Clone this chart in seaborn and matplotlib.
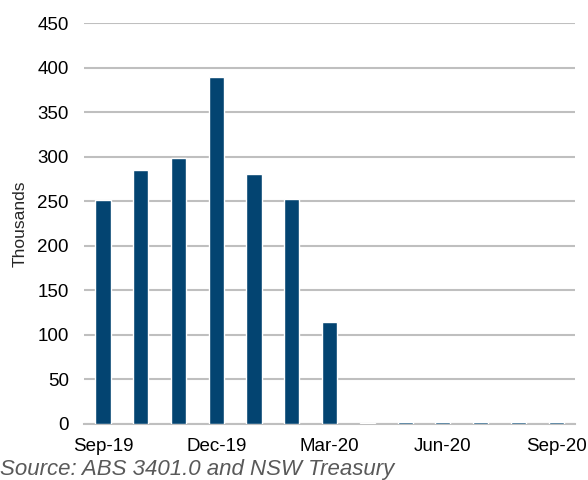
import numpy as np
import pandas as pd
import matplotlib
matplotlib.use("Agg")
import matplotlib.pyplot as plt
import seaborn as sns

months = ["Sep-19", "Oct-19", "Nov-19", "Dec-19", "Jan-20", "Feb-20", "Mar-20",
          "Apr-20", "May-20", "Jun-20", "Jul-20", "Aug-20", "Sep-20"]
thousands = [251, 285, 298, 389, 280, 252, 114, 0.8, 1.6, 2.6, 1.6, 1.6, 2.6]
shown_ticks = ["Sep-19", "Dec-19", "Mar-20", "Jun-20", "Sep-20"]

BAR = "#034471"
GRID = "#bfbfbf"

sns.set_theme(style="white")
plt.rcParams["font.family"] = ["Liberation Sans", "DejaVu Sans"]

df = pd.DataFrame({"month": months, "value": thousands})

fig = plt.figure(figsize=(5.88, 4.8), dpi=100)
ax = fig.add_axes([0.143, 0.117, 0.835, 0.835])

sns.barplot(data=df, x="month", y="value", order=months, color=BAR,
            saturation=1, width=0.4, ax=ax, zorder=3)

ax.set_ylim(0, 450)
ax.set_xlim(-0.5, len(months) - 0.5)
ax.set_yticks(np.arange(0, 451, 50))
ax.yaxis.grid(True, color=GRID, linewidth=1.5, zorder=0)
ax.set_axisbelow(True)
for s in ["top", "right", "left"]:
    ax.spines[s].set_visible(False)
ax.spines["bottom"].set_color(GRID)
ax.spines["bottom"].set_linewidth(1.5)
ax.spines["bottom"].set_zorder(1)

pos = [months.index(m) for m in shown_ticks]
ax.set_xticks(pos)
ax.set_xticklabels(shown_ticks)
ax.tick_params(axis="both", length=0, labelsize=13.5, colors="black")
ax.tick_params(axis="x", pad=10)
ax.tick_params(axis="y", pad=11)
ax.set_xlabel("")
ax.set_ylabel("Thousands", fontsize=12.5)
ax.yaxis.set_label_coords(-0.114, 0.5)

fig.text(0.0, 5 / 480, "Source: ABS 3401.0 and NSW Treasury", fontsize=16,
         style="italic", color="#595959", ha="left", va="baseline")

fig.savefig("out.png", dpi=100)
